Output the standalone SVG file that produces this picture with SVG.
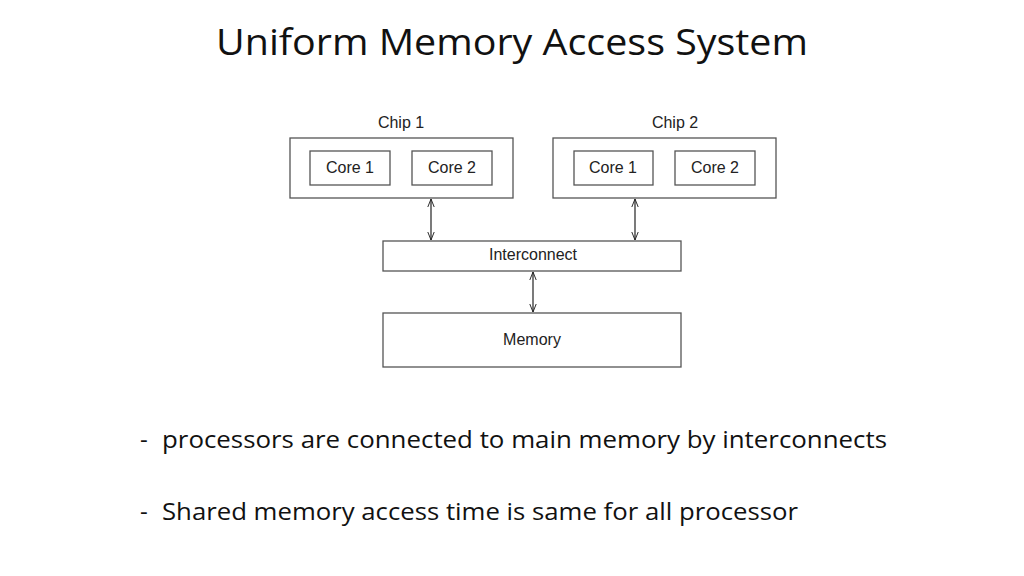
<svg xmlns="http://www.w3.org/2000/svg" width="1024" height="576" viewBox="0 0 1024 576">
<style>
.box{fill:#fff;stroke:#555;stroke-width:1.3}
.lbl{font-family:"Liberation Sans",Arial,sans-serif;font-size:16px;fill:#222;text-anchor:middle}
.big{font-family:"Open Sans","Liberation Sans",sans-serif;fill:#111}
.con{stroke:#222;stroke-width:1.2;fill:none;marker-start:url(#a);marker-end:url(#a)}
</style>
<defs><marker id="a" viewBox="0 0 10 10" refX="10" refY="5" markerWidth="8" markerHeight="8" orient="auto-start-reverse" markerUnits="userSpaceOnUse"><path d="M0,1 L10,5 L0,9" fill="none" stroke="#222" stroke-width="1.2"/></marker></defs>
<rect width="1024" height="576" fill="#fff"/>
<text class="big" x="512" y="55" font-size="36" text-anchor="middle" textLength="592" lengthAdjust="spacingAndGlyphs">Uniform Memory Access System</text>
<g id="chip1"><text class="lbl" x="401" y="128">Chip 1</text><rect class="box" x="290" y="138" width="223" height="60"/></g>
<g id="c1core1"><rect class="box" x="310" y="151" width="80" height="34"/><text class="lbl" x="350" y="173">Core 1</text></g>
<g id="c1core2"><rect class="box" x="412" y="151" width="80" height="34"/><text class="lbl" x="452" y="173">Core 2</text></g>
<g id="chip2"><text class="lbl" x="675" y="128">Chip 2</text><rect class="box" x="553" y="138" width="223" height="60"/></g>
<g id="c2core1"><rect class="box" x="574" y="151" width="79" height="34"/><text class="lbl" x="613" y="173">Core 1</text></g>
<g id="c2core2"><rect class="box" x="675" y="151" width="80" height="34"/><text class="lbl" x="715" y="173">Core 2</text></g>
<g id="interconnect"><rect class="box" x="383" y="241" width="298" height="30"/><text class="lbl" x="533" y="260">Interconnect</text></g>
<g id="memory"><rect class="box" x="383" y="313" width="298" height="54"/><text class="lbl" x="532" y="345">Memory</text></g>
<g id="connectors">
<line class="con" x1="431" y1="199" x2="431" y2="240"/>
<line class="con" x1="635" y1="199" x2="635" y2="240"/>
<line class="con" x1="533" y1="272" x2="533" y2="312"/>
</g>
<text class="big" x="140" y="448" font-size="24">- <tspan x="162" textLength="725" lengthAdjust="spacingAndGlyphs">processors are connected to main memory by interconnects</tspan></text>
<text class="big" x="140" y="520" font-size="24">- <tspan x="162" textLength="636" lengthAdjust="spacingAndGlyphs">Shared memory access time is same for all processor</tspan></text>
</svg>
